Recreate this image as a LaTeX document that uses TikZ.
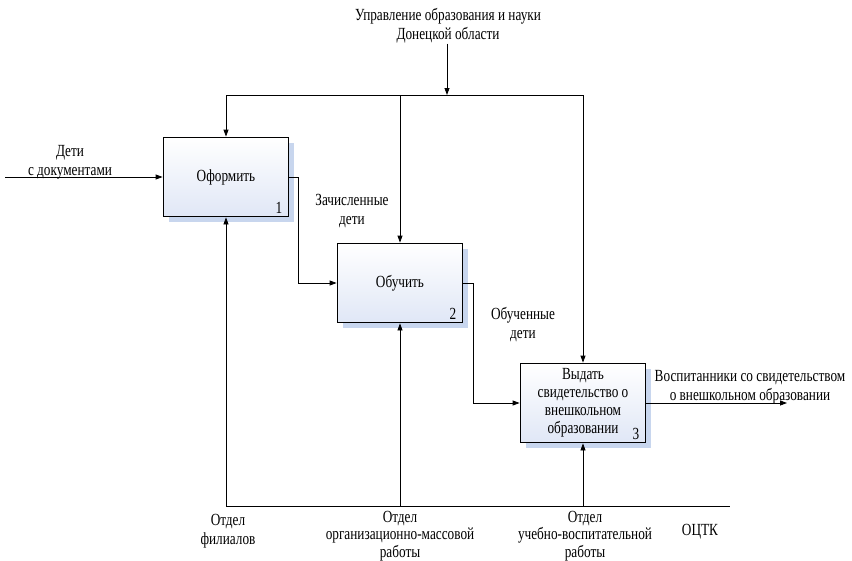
\documentclass[tikz,border=0pt]{standalone}
\usepackage{fontspec}
\setmainfont[FakeStretch=0.78]{Liberation Serif}
\usetikzlibrary{arrows.meta,shadows}
\begin{document}
\begin{tikzpicture}[x=1pt,y=-1pt,
  txt/.style={font=\fontsize{17}{19}\selectfont, align=center, inner sep=0pt},
  mtxt/.style={font=\fontsize{17}{17.5}\selectfont, align=center, inner sep=0pt},
  fbox/.style={draw=black, line width=1.8pt, minimum width=125pt, minimum height=79pt,
     inner sep=0pt, align=center, font=\fontsize{17}{18}\selectfont,
     top color=white, bottom color={rgb,255:red,224;green,231;blue,246},
     drop shadow={fill={rgb,255:red,200;green,214;blue,238}, shadow xshift=5pt, shadow yshift=-5pt, opacity=1}},
  num/.style={font=\fontsize{17}{18}\selectfont, inner sep=0pt, anchor=south east},
  arr/.style={-{Triangle[length=7pt,width=5pt]}, line width=0.8pt},
  ln/.style={line width=0.8pt}]
\useasboundingbox (0,0) rectangle (852,560);

% boxes
\node[fbox] (b1) at (226,177) {Оформить};
\node[fbox] (b2) at (400,283) {Обучить};
\node[fbox] (b3) at (583,403) {Выдать\\свидетельство о\\внешкольном\\образовании};
\node[num] (n1) at ([xshift=-7pt,yshift=4pt]b1.south east) {1};
\node[num] (n2) at ([xshift=-7pt,yshift=4pt]b2.south east) {2};
\node[num] (n3) at ([xshift=-7pt,yshift=4pt]b3.south east) {3};

% control
\node[txt] (ctrl) at (448,26) {Управление образования и науки\\Донецкой области};
\coordinate (cj) at (447,95);
\draw[arr] (ctrl.south -| cj) -- (cj);
\draw[arr] (cj) -| (b1.north);
\draw[arr] (cj) -| (b3.north);
\draw[arr] (b2.north |- cj) -- (b2.north);

% input
\coordinate (in) at (5,177);
\node[txt] (intext) at (70,162) {Дети\\с документами};
\draw[arr] (in) -- (b1.west);

% b1 -> b2
\draw[arr] (b1.east) -- ++(9,0) |- (b2.west);
\node[txt] (zd) at (352,211) {Зачисленные\\дети};

% b2 -> b3
\draw[arr] (b2.east) -- ++(10,0) |- (b3.west);
\node[txt] (od) at (523,325) {Обученные\\дети};

% output
\coordinate (out) at (787,403);
\draw[arr] (b3.east) -- (out);
\node[txt] (outtext) at (750,387) {Воспитанники со свидетельством\\о внешкольном образовании};

% mechanisms
\coordinate (mR) at (730,506);
\draw[ln] (b1.south |- mR) -- (mR);
\draw[arr] (b1.south |- mR) -- (b1.south);
\draw[arr] (b2.south |- mR) -- (b2.south);
\draw[arr] (b3.south |- mR) -- (b3.south);
\node[txt] (m1) at (228,531) {Отдел\\филиалов};
\node[mtxt] (m2) at (400,536) {Отдел\\организационно-массовой\\работы};
\node[mtxt] (m3) at (585,536) {Отдел\\учебно-воспитательной\\работы};
\node[txt] (m4) at (700,532) {ОЦТК};
\end{tikzpicture}
\end{document}
